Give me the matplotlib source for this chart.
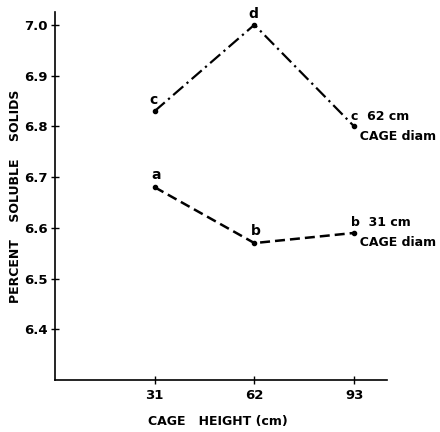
import matplotlib.pyplot as plt

# Cage height (cm) and percent soluble solids for each cage diameter
heights = [31, 62, 93]
solids_62 = [6.83, 7.00, 6.80]
solids_31 = [6.68, 6.57, 6.59]
letters_62 = ['c', 'd', 'c']
letters_31 = ['a', 'b', 'b']
yticks = [6.4, 6.5, 6.6, 6.7, 6.8, 6.9, 7.0]

plt.rcParams.update({'font.family': 'DejaVu Sans', 'font.weight': 'bold', 'font.size': 9})

fig = plt.figure(figsize=(4.4, 4.32), dpi=100)
ax = fig.add_axes([0.125, 0.12, 0.755, 0.852])

ax.plot(heights, solids_62, color='black', linestyle=(0, (6, 2, 1, 2)), linewidth=1.6,
        marker='o', markersize=3)
ax.plot(heights, solids_31, color='black', linestyle=(0, (4, 2)), linewidth=1.8,
        marker='o', markersize=3)

# significance letters
for x, y, s in zip(heights[:2], solids_62[:2], letters_62[:2]):
    ax.annotate(s, (x, y), xytext=(-1, 3), textcoords='offset points',
                ha='center', va='bottom', fontsize=10)
for x, y, s in zip(heights[:2], solids_31[:2], letters_31[:2]):
    ax.annotate(s, (x, y), xytext=(1, 4), textcoords='offset points',
                ha='center', va='bottom', fontsize=10)

ax.annotate(f'{letters_62[2]}  62 cm\n  CAGE diam', (heights[2], solids_62[2]),
            xytext=(-2, 0), textcoords='offset points', ha='left', va='center',
            fontsize=9, linespacing=1.7, annotation_clip=False)
ax.annotate(f'{letters_31[2]}  31 cm\n  CAGE diam', (heights[2], solids_31[2]),
            xytext=(-2, 0), textcoords='offset points', ha='left', va='center',
            fontsize=9, linespacing=1.7, annotation_clip=False)

ax.set_xlim(0, 103.3)
ax.set_ylim(6.30, 7.025)
ax.set_xticks(heights)
ax.set_yticks(yticks)
ax.set_yticklabels([f'{v:.1f}' for v in yticks])
ax.tick_params(direction='inout', length=6, width=1, labelsize=9.5)
ax.tick_params(axis='y', pad=2)

for side in ['top', 'right']:
    ax.spines[side].set_visible(False)
for side in ['left', 'bottom']:
    ax.spines[side].set_linewidth(1.2)

fig.text(218 / 440, 1 - 421 / 432, 'CAGE   HEIGHT (cm)', ha='center', va='center', fontsize=9)
fig.text(16 / 440, 1 - 196 / 432, 'PERCENT    SOLUBLE    SOLIDS', ha='center', va='center',
         rotation=90, fontsize=9)

fig.savefig('out.png', dpi=100)
